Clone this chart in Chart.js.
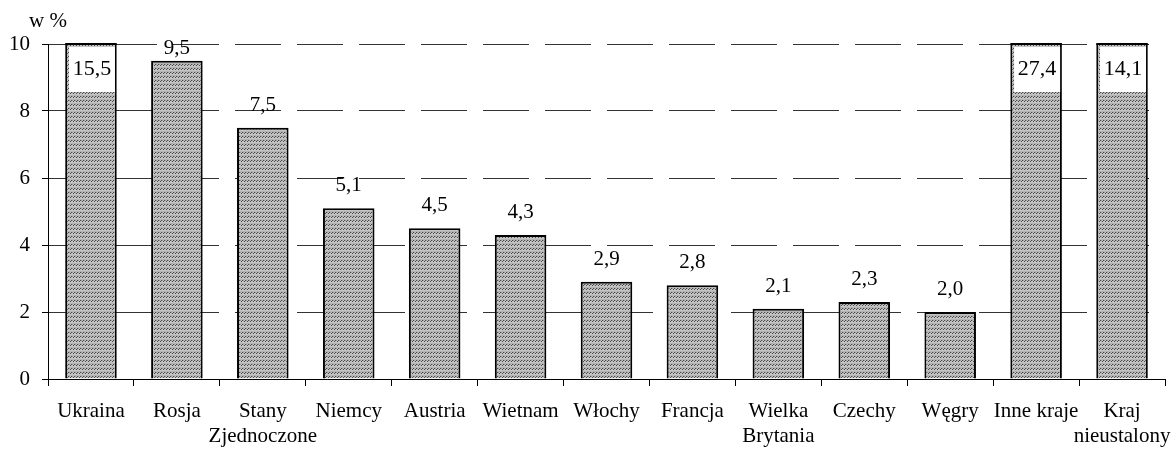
<!DOCTYPE html>
<html>
<head>
<meta charset="utf-8">
<script src="https://cdn.jsdelivr.net/npm/chart.js@4"></script>
<style>
  html, body { margin: 0; padding: 0; background: #fff; }
  #wrap { width: 1173px; height: 450px; }
</style>
</head>
<body>
<div id="wrap"><canvas id="chart" width="1173" height="450"></canvas></div>
<script>
// dane
const categories = ['Ukraina', 'Rosja', ['Stany', 'Zjednoczone'], 'Niemcy', 'Austria', 'Wietnam',
    'Włochy', 'Francja', ['Wielka', 'Brytania'], 'Czechy', 'Węgry', 'Inne kraje', ['Kraj', 'nieustalony']];
const shares = [15.5, 9.5, 7.5, 5.1, 4.5, 4.3, 2.9, 2.8, 2.1, 2.3, 2.0, 27.4, 14.1];
const yTicks = [0, 2, 4, 6, 8, 10];
const yTitle = 'w %';

const FONT = 'Liberation Serif, Times New Roman, serif';

function makeHatch() {
    const c = document.createElement('canvas');
    c.width = 3;
    c.height = 4;
    const g = c.getContext('2d');
    g.fillStyle = '#c4c4c4';
    g.fillRect(0, 0, 3, 4);
    g.fillStyle = '#b4b4b4';
    g.fillRect(0, 3, 3, 1);
    g.fillStyle = '#9a9a9a';
    g.fillRect(0, 0, 1, 1);
    g.fillStyle = '#484848';
    g.fillRect(2, 0, 1, 1);
    g.fillRect(1, 1, 1, 1);
    return g.createPattern(c, 'repeat');
}

function fmt(v) {
    return v.toFixed(1).replace('.', ',');
}

// etykiety wartości i tytuł osi
const labelPlugin = {
    id: 'valueLabels',
    afterDatasetsDraw(chart) {
        const ctx = chart.ctx;
        const area = chart.chartArea;
        const yMax = chart.scales.y.max;
        const meta = chart.getDatasetMeta(0);
        ctx.save();
        ctx.textAlign = 'center';
        meta.data.forEach((bar, i) => {
            const v = shares[i];
            if (v > yMax) {
                ctx.fillStyle = '#000';
                ctx.fillRect(bar.x - bar.width / 2, area.top - 1, bar.width, 2);
                ctx.fillStyle = '#fff';
                ctx.fillRect(bar.x - 22, area.top + 3, 46, 45);
                ctx.fillStyle = '#000';
                ctx.font = '22px ' + FONT;
                ctx.textBaseline = 'middle';
                ctx.fillText(fmt(v), bar.x + 1, area.top + 25);
            } else {
                ctx.fillStyle = '#000';
                ctx.font = '21px ' + FONT;
                ctx.textBaseline = 'alphabetic';
                const yb = Math.max(bar.y - 17, area.top + 10);
                ctx.fillText(fmt(v), bar.x, yb);
            }
        });
        ctx.font = '21px ' + FONT;
        ctx.textBaseline = 'middle';
        ctx.fillText(yTitle, 48, 21);
        ctx.restore();
    }
};

const chartConfig = {
    type: 'bar',
    data: {
        labels: categories,
        datasets: [{
            data: shares,
            backgroundColor: makeHatch(),
            borderColor: '#000',
            borderWidth: 2,
            borderSkipped: 'bottom',
            barPercentage: 0.6,
            categoryPercentage: 1,
            clip: { top: 0, left: false, right: false, bottom: false }
        }]
    },
    options: {
        responsive: false,
        animation: false,
        layout: { padding: { top: 44, right: 8, left: 0, bottom: 0 } },
        plugins: {
            legend: { display: false },
            tooltip: { enabled: false }
        },
        scales: {
            x: {
                afterFit(scale) {
                    scale.height = 71;
                    scale.paddingLeft = 0;
                    scale.paddingRight = 0;
                },
                grid: {
                    offset: true,
                    drawOnChartArea: false,
                    tickLength: 7,
                    tickColor: '#000',
                    color: '#000'
                },
                border: { color: '#000', width: 1 },
                ticks: {
                    color: '#000',
                    font: { family: FONT, size: 21, lineHeight: 1.2 },
                    maxRotation: 0,
                    autoSkip: false,
                    padding: 13
                }
            },
            y: {
                min: 0,
                max: 10,
                afterFit(scale) {
                    scale.width = 48;
                    scale.paddingTop = 0;
                    scale.paddingBottom = 0;
                },
                afterBuildTicks(scale) { scale.ticks = yTicks.map(v => ({ value: v })); },
                grid: {
                    color: '#333',
                    tickLength: 6,
                    tickColor: '#000'
                },
                border: { color: '#000', width: 1, dash: [46, 16] },
                ticks: {
                    color: '#000',
                    font: { family: FONT, size: 21 },
                    padding: 12
                }
            }
        }
    },
    plugins: [labelPlugin]
};

function initializeChart() {
    const canvas = document.getElementById('chart');
    new Chart(canvas.getContext('2d'), chartConfig);
}

initializeChart();
</script>
</body>
</html>
